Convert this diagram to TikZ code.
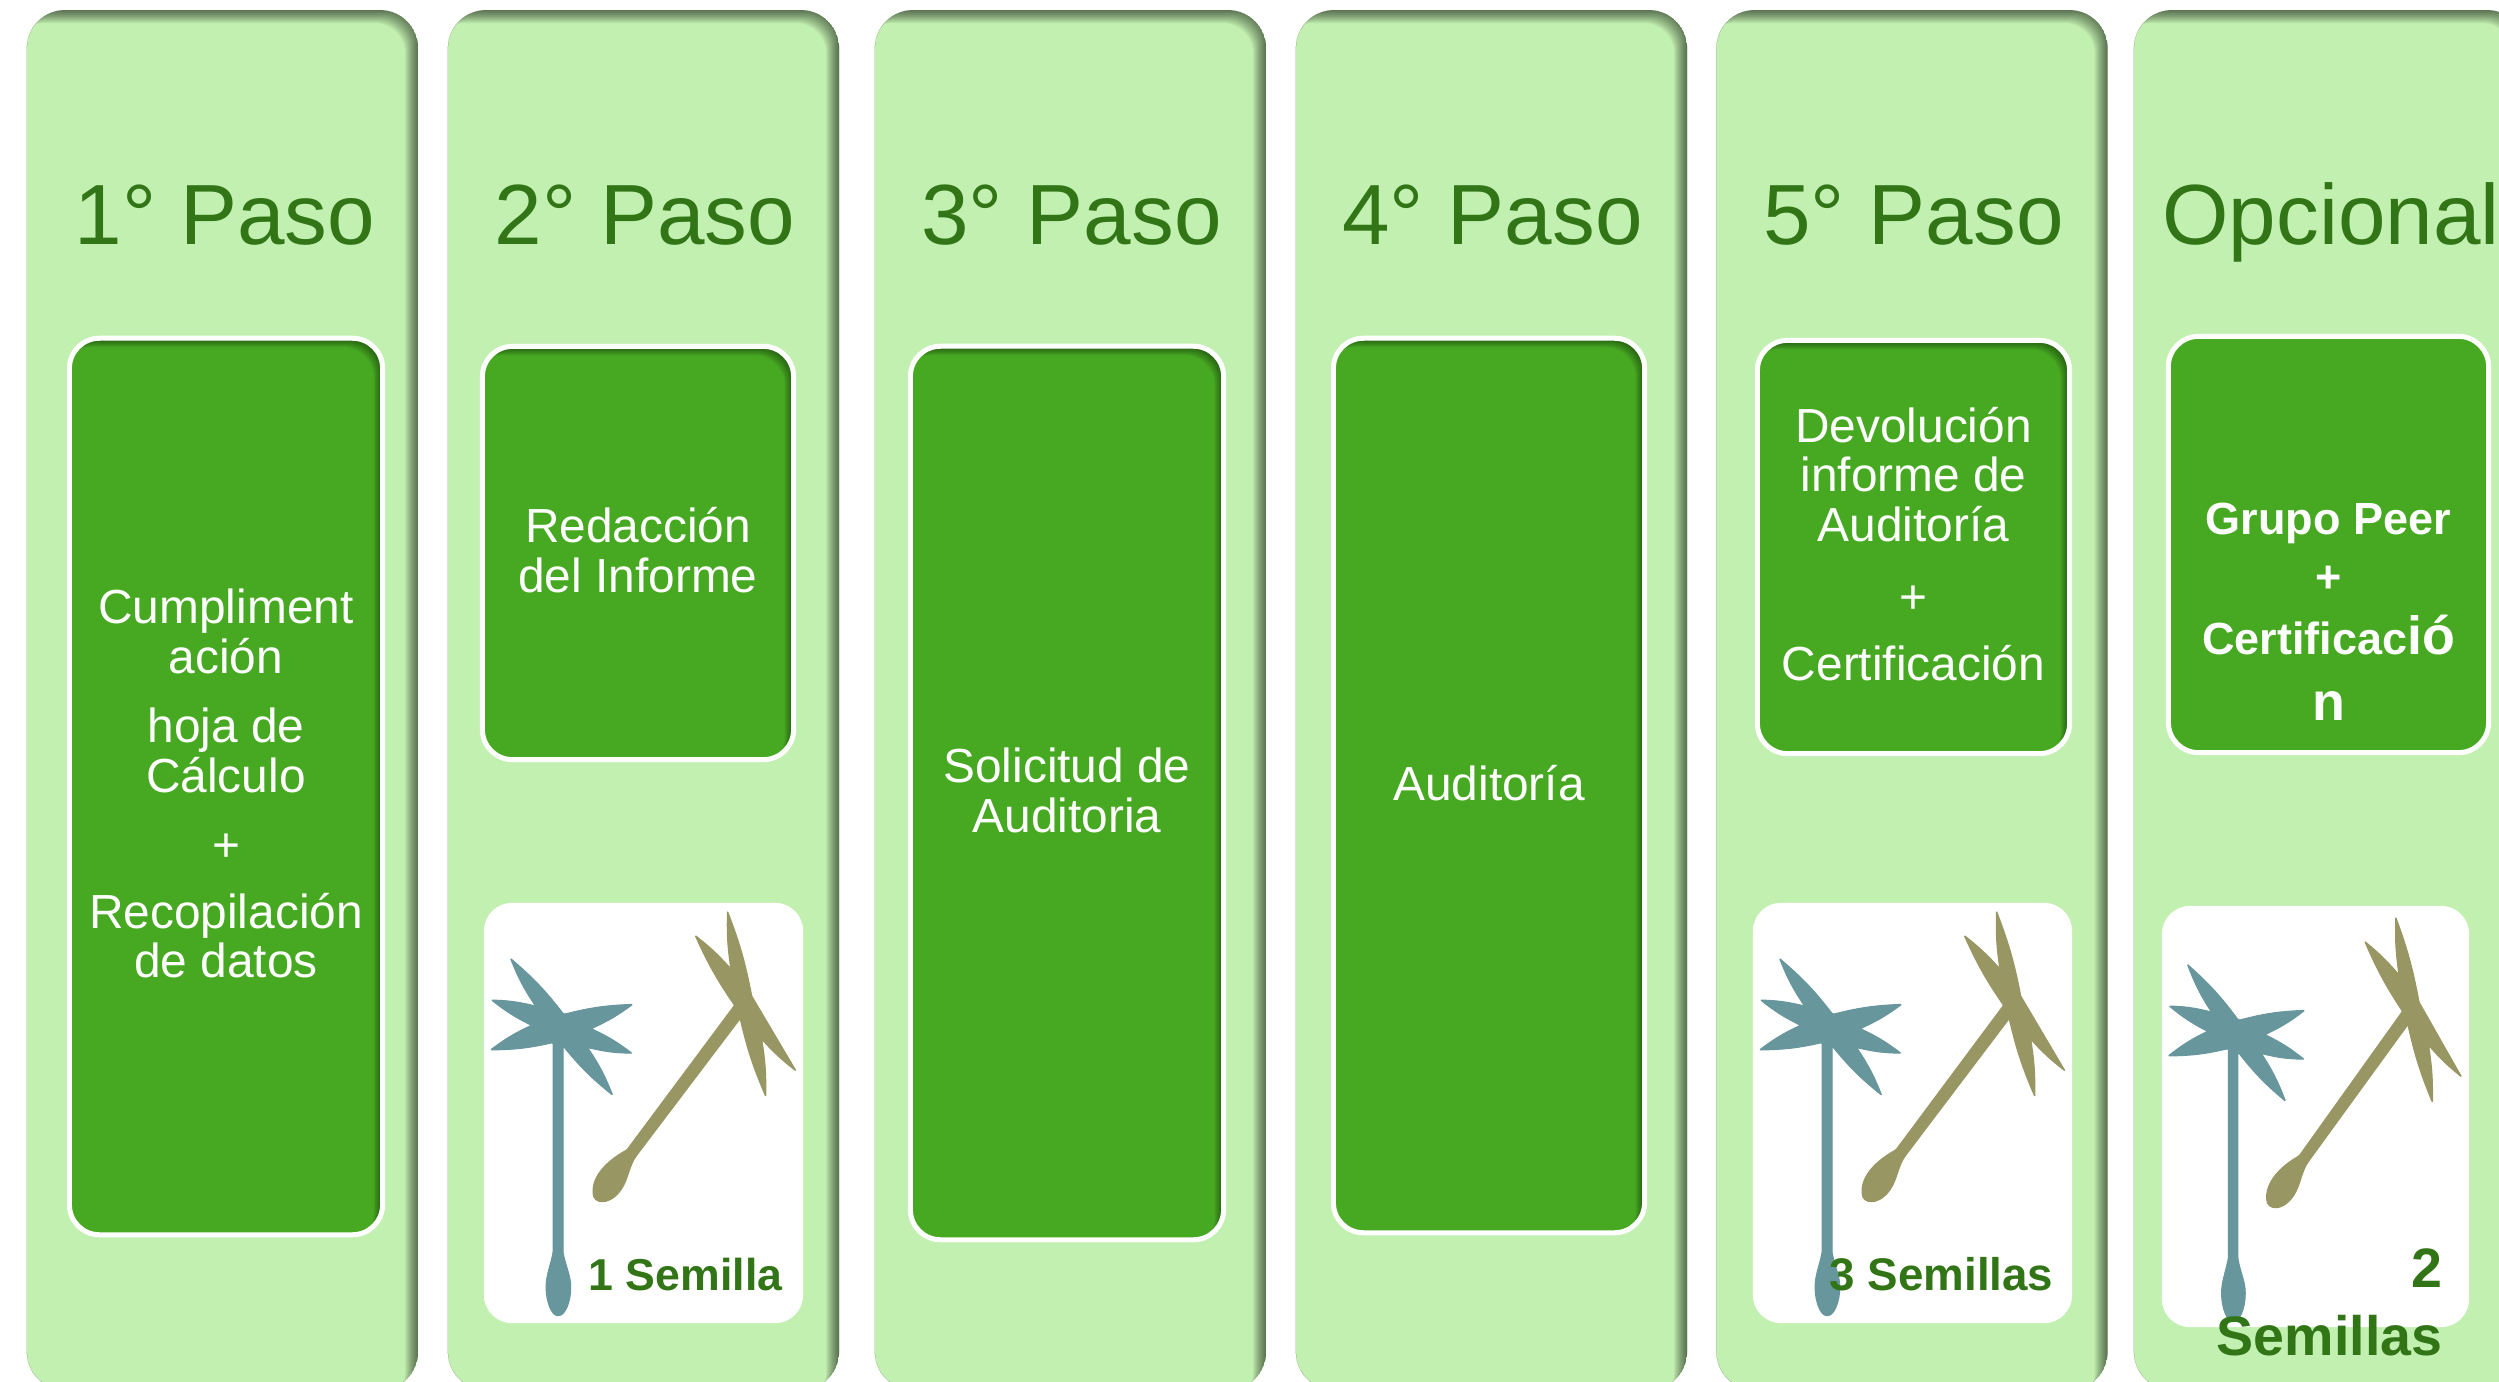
\documentclass[tikz,border=0pt]{standalone}
\usepackage{fontspec}
\setmainfont{Liberation Sans}
\definecolor{panelgreen}{HTML}{C2F0B0}
\definecolor{boxgreen}{HTML}{47A922}
\definecolor{titlegreen}{HTML}{317516}
\definecolor{seedteal}{HTML}{67969C}
\definecolor{seedolive}{HTML}{989763}
\tikzset{
    innershadow/.style 2 args={path picture={
        \foreach \d in {1,...,#1}
            \fill[black, opacity=#2, even odd rule]
                (path picture bounding box.south west) rectangle (path picture bounding box.north east)
                [rounded corners=.3cm]
                ([xshift=-\d*.01cm, yshift=-\d*.01cm]path picture bounding box.south west) rectangle
                ([xshift=-\d*.01cm, yshift=-\d*.01cm]path picture bounding box.north east);
    }},
    panel/.style={rectangle, fill=panelgreen, rounded corners=.38cm, inner sep=0pt,
        minimum width=3.91cm, minimum height=13.79cm, innershadow={13}{.05}},
    paneltitle/.style={anchor=base, text=titlegreen, inner sep=0pt, font=\fontsize{24.3}{28}\selectfont},
    stepbox/.style={rectangle, draw=white, line width=.05cm, fill=boxgreen, rounded corners=.3cm,
        inner sep=0pt, text=white, align=center, text depth=1.7pt, font=\fontsize{13.6}{14.05}\selectfont},
    boxshadow/.style={innershadow={9}{.06}},
    seedbox/.style={rectangle, fill=white, rounded corners=.28cm, inner sep=0pt},
    seedlabel/.style={anchor=base east, inner sep=0pt, text=titlegreen, align=right},
    semillas/.pic={
        \begin{scope}[x=.003333cm, y=-.003333cm, shift={(-133,-68)}, line width=.01cm, rounded corners=.01cm]
        % teal seed, standing
        \filldraw[seedteal] (375,405) to[bend right=6] (215,237) to[bend right=6] (290,380)
            to[bend right=6] (158,362) to[bend right=6] (278,438) to[bend right=6] (155,512)
            to[bend right=6] (343,490) -- (343,1120) .. controls (335,1160) and (322,1190) .. (322,1225)
            .. controls (322,1270) and (340,1310) .. (358,1310)
            .. controls (378,1310) and (396,1270) .. (396,1225)
            .. controls (396,1190) and (380,1160) .. (373,1120) -- (373,500)
            to[bend right=6] (522,648) to[bend right=6] (447,505) to[bend right=6] (580,522)
            to[bend right=6] (458,448) to[bend right=6] (582,375) to[bend right=6] (375,405) -- cycle;
        % olive seed, leaning
        \filldraw[seedolive] (888,378) -- (565,812) .. controls (505,845) and (462,890) .. (463,940)
            .. controls (464,975) and (510,980) .. (545,935) .. controls (570,900) and (570,860) .. (597,825)
            -- (905,418) to[bend right=5] (982,652) to[bend right=5] (970,480)
            to[bend right=5] (1073,575) -- (940,350) to[bend right=5] (867,95)
            to[bend right=5] (877,268) to[bend right=5] (770,168) to[bend right=5] (888,378) -- cycle;
        \end{scope}
    }
}
\begin{document}
\begin{tikzpicture}[x=.01cm, y=-.01cm]
    \useasboundingbox (0,0) rectangle (2499,1382);
    \clip (0,0) rectangle (2499,1382);

    % columns
    \node[panel] (panelA) at (222.5,700) {};
    \node[panel] (panelB) at (643.5,700) {};
    \node[panel] (panelC) at (1070.5,700) {};
    \node[panel] (panelD) at (1491.5,700) {};
    \node[panel] (panelE) at (1912,700) {};
    \node[panel] (panelF) at (2329.5,700) {};

    \node[paneltitle] (titleA) at (225,245) {1° Paso};
    \node[paneltitle] (titleB) at (645,245) {2° Paso};
    \node[paneltitle] (titleC) at (1071.5,245) {3° Paso};
    \node[paneltitle] (titleD) at (1492.5,245) {4° Paso};
    \node[paneltitle] (titleE) at (1913.5,245) {5° Paso};
    \node[paneltitle] (titleF) at (2331,245) {Opcional};

    % green boxes
    \node[stepbox, boxshadow, minimum width=3.13cm, minimum height=8.96cm] (boxA) at (226,786.5)
        {Cumpliment\\ación\\[5.7pt] hoja de\\Cálculo\\[5.7pt] +\\[5pt] Recopilación\\de datos};
    \node[stepbox, boxshadow, minimum width=3.11cm, minimum height=4.13cm] (boxB) at (638,553)
        {Redacción\\del Informe};
    \node[stepbox, boxshadow, minimum width=3.13cm, minimum height=8.93cm] (boxC) at (1067,793)
        {Solicitud de\\Auditoria};
    \node[stepbox, boxshadow, minimum width=3.11cm, minimum height=8.94cm] (boxD) at (1489,785.5)
        {Auditoría};
    \node[stepbox, boxshadow, minimum width=3.12cm, minimum height=4.13cm] (boxE) at (1913.5,547)
        {Devolución\\informe de\\Auditoría\\[6.5pt] +\\[5pt] Certificación};
    \node[stepbox, minimum width=3.2cm, minimum height=4.16cm] (boxF) at (2328.5,544.5) {};
    \node[inner sep=0pt, text=white, align=center, font=\fontsize{12.8}{15.6}\selectfont\bfseries] (textF) at (2328.5,612)
        {Grupo Peer\\[.9pt] +\\[1.9pt] Certificac{\fontsize{15.3}{15.6}\selectfont ió}\\[3.3pt] {\fontsize{15.3}{15.6}\selectfont n}};

    % seed cards
    \node[seedbox, minimum width=3.19cm, minimum height=4.2cm] (cardB) at (643.5,1113) {};
    \node[seedbox, minimum width=3.19cm, minimum height=4.2cm] (cardE) at (1912.5,1113) {};
    \node[seedbox, minimum width=3.07cm, minimum height=4.21cm] (cardF) at (2315.5,1116.5) {};

    \pic at (cardB.north west) {semillas};
    \pic at (cardE.north west) {semillas};
    \pic[xscale=.96, yshift=-.03cm] at (cardF.north west) {semillas};

    \node[seedlabel, font=\fontsize{12.7}{15}\selectfont\bfseries] (seedsB) at (783,1290) {1 Semilla};
    \node[seedlabel, font=\fontsize{13}{15}\selectfont\bfseries] (seedsE) at (2054,1290) {3 Semillas};
    \node[seedlabel, font=\fontsize{15.8}{19.3}\selectfont\bfseries] (seedsF) at (2443,1355) {2\\Semillas};
\end{tikzpicture}
\end{document}
